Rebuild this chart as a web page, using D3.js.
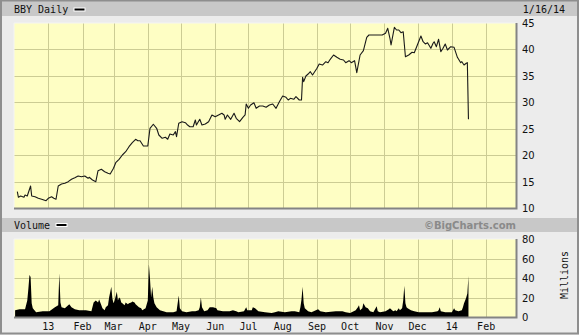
<!DOCTYPE html>
<html>
<head>
<meta charset="utf-8">
<script src="https://cdn.jsdelivr.net/npm/d3@7"></script>
<style>
  body { margin: 0; background: #fff; }
  svg { display: block; }
</style>
</head>
<body>
<div id="chart"></div>
<script>
// chart data
const priceDates = ["2012-12-04","2012-12-05","2012-12-07","2012-12-10","2012-12-11","2012-12-13","2012-12-16","2012-12-17","2012-12-20","2012-12-23","2012-12-26","2012-12-30",
  "2013-01-01","2013-01-04","2013-01-06","2013-01-08","2013-01-10","2013-01-13","2013-01-16","2013-01-19","2013-01-22","2013-01-25","2013-01-28","2013-01-31",
  "2013-02-03","2013-02-06","2013-02-07","2013-02-10","2013-02-13","2013-02-15","2013-02-18","2013-02-21","2013-02-24","2013-02-26",
  "2013-03-01","2013-03-03","2013-03-06","2013-03-09","2013-03-12","2013-03-15","2013-03-18","2013-03-21","2013-03-23","2013-03-25","2013-03-28",
  "2013-04-01","2013-04-03","2013-04-06","2013-04-09","2013-04-11","2013-04-14","2013-04-17","2013-04-19","2013-04-21","2013-04-24","2013-04-26","2013-04-27","2013-04-29",
  "2013-05-02","2013-05-05","2013-05-07","2013-05-09","2013-05-12","2013-05-14","2013-05-15","2013-05-18","2013-05-20","2013-05-23","2013-05-26","2013-05-29",
  "2013-06-01","2013-06-04","2013-06-07","2013-06-09","2013-06-10","2013-06-12","2013-06-15","2013-06-18","2013-06-20","2013-06-23","2013-06-26","2013-06-28","2013-06-29",
  "2013-07-01","2013-07-03","2013-07-06","2013-07-08","2013-07-11","2013-07-14","2013-07-17","2013-07-20","2013-07-23","2013-07-26","2013-07-29",
  "2013-08-01","2013-08-04","2013-08-06","2013-08-08","2013-08-11","2013-08-13","2013-08-16","2013-08-18","2013-08-19","2013-08-20","2013-08-22","2013-08-24","2013-08-26","2013-08-28",
  "2013-09-01","2013-09-03","2013-09-06","2013-09-09","2013-09-11","2013-09-13","2013-09-16","2013-09-19","2013-09-22","2013-09-25","2013-09-27","2013-09-30",
  "2013-10-02","2013-10-05","2013-10-07","2013-10-10","2013-10-13","2013-10-16","2013-10-18","2013-10-21","2013-10-25","2013-10-30",
  "2013-11-02","2013-11-04","2013-11-06","2013-11-07","2013-11-10","2013-11-12","2013-11-14","2013-11-16","2013-11-18","2013-11-20","2013-11-23","2013-11-26","2013-11-28","2013-11-30",
  "2013-12-04","2013-12-06","2013-12-08","2013-12-10","2013-12-13","2013-12-15","2013-12-16","2013-12-18","2013-12-20","2013-12-22","2013-12-24","2013-12-26","2013-12-28","2013-12-31",
  "2014-01-03","2014-01-06","2014-01-09","2014-01-10","2014-01-12","2014-01-14","2014-01-15","2014-01-16"];
const priceValues = [13.09,12.03,12.27,12.03,12.46,12.27,14.16,12.27,12.14,11.84,11.65,11.38,
  11.84,12.14,11.84,11.65,14.16,14.54,14.67,14.98,15.43,15.73,16.06,15.92,
  16.06,15.62,15.81,15.30,14.98,17.06,17.32,16.87,16.57,16.43,
  17.51,18.57,19.21,20.03,20.65,21.60,22.36,23.00,22.73,22.73,21.73,
  21.73,25.08,25.84,25.08,23.81,23.19,23.38,23.00,24.00,23.81,24.44,23.49,26.03,
  26.33,26.14,25.70,25.38,25.38,26.65,25.70,26.78,25.70,25.89,26.33,27.60,
  27.27,27.60,27.92,27.60,26.78,27.60,26.78,27.92,26.97,26.33,27.16,27.60,29.68,
  28.86,29.49,29.92,28.86,29.30,29.30,29.05,29.49,29.68,28.86,30.11,
  31.19,30.94,30.43,30.75,30.57,31.06,30.43,30.43,34.73,33.90,34.97,35.35,35.79,35.16,
  36.43,37.24,37.05,37.68,37.49,38.13,38.95,38.51,38.13,38.00,37.49,37.87,
  37.49,37.87,35.60,38.95,39.76,42.29,42.73,42.73,42.73,42.73,
  43.05,44.00,42.11,40.84,44.19,43.68,43.68,43.17,43.35,38.62,38.95,39.46,39.38,40.40,
  42.54,41.46,41.03,41.27,40.21,41.16,41.46,40.52,41.92,39.57,40.21,41.03,39.89,40.52,
  40.40,38.51,37.49,37.68,37.05,37.38,37.50,26.80];

const volumeDates = ["2012-12-02","2012-12-06","2012-12-11","2012-12-13","2012-12-14","2012-12-15","2012-12-16","2012-12-17","2012-12-18","2012-12-21","2012-12-27",
  "2013-01-02","2013-01-07","2013-01-10","2013-01-11","2013-01-12","2013-01-13","2013-01-16","2013-01-20","2013-01-22","2013-01-25","2013-01-29",
  "2013-02-04","2013-02-09","2013-02-11","2013-02-13","2013-02-15","2013-02-16","2013-02-18","2013-02-19","2013-02-21","2013-02-22","2013-02-24","2013-02-25","2013-02-27","2013-02-28",
  "2013-03-01","2013-03-02","2013-03-04","2013-03-05","2013-03-06","2013-03-07","2013-03-08","2013-03-09","2013-03-11","2013-03-12","2013-03-14","2013-03-15","2013-03-17","2013-03-18","2013-03-20","2013-03-21","2013-03-23","2013-03-24","2013-03-26","2013-03-27","2013-03-30",
  "2013-04-01","2013-04-02","2013-04-03","2013-04-04","2013-04-05","2013-04-06","2013-04-07","2013-04-09","2013-04-10","2013-04-12","2013-04-18","2013-04-24","2013-04-27","2013-04-29","2013-04-30",
  "2013-05-02","2013-05-06","2013-05-11","2013-05-14","2013-05-17","2013-05-18","2013-05-19","2013-05-20","2013-05-22","2013-05-25","2013-05-27","2013-05-30",
  "2013-06-02","2013-06-03","2013-06-08","2013-06-14","2013-06-17","2013-06-20","2013-06-22","2013-06-27","2013-06-29","2013-06-30",
  "2013-07-04","2013-07-05","2013-07-07","2013-07-10","2013-07-16","2013-07-22","2013-07-25","2013-07-28",
  "2013-08-03","2013-08-09","2013-08-12","2013-08-16","2013-08-17","2013-08-18","2013-08-19","2013-08-20","2013-08-21","2013-08-23","2013-08-24","2013-08-27","2013-08-31",
  "2013-09-02","2013-09-04","2013-09-09","2013-09-18","2013-09-24","2013-09-27",
  "2013-10-01","2013-10-06","2013-10-08","2013-10-09","2013-10-10","2013-10-12","2013-10-13","2013-10-14","2013-10-15","2013-10-17","2013-10-19","2013-10-22","2013-10-24","2013-10-25","2013-10-26","2013-10-28",
  "2013-11-02","2013-11-05","2013-11-06","2013-11-08","2013-11-09","2013-11-11","2013-11-12","2013-11-14","2013-11-15","2013-11-17","2013-11-18","2013-11-19","2013-11-20","2013-11-21","2013-11-22","2013-11-25","2013-11-28",
  "2013-12-02","2013-12-08","2013-12-14","2013-12-19","2013-12-20","2013-12-21","2013-12-22","2013-12-26",
  "2014-01-01","2014-01-03","2014-01-04","2014-01-07","2014-01-10","2014-01-11","2014-01-12","2014-01-13","2014-01-14","2014-01-15","2014-01-16"];
const volumeValues = [7,8,8,17,29,43,41,14,9,5,6,
  6,10,12,45,15,10,9,13,10,8,7,
  7,6,15,17,15,18,12,9,7,10,12,20,31,19,
  14,17,26,17,20,19,15,14,12,15,13,14,15,16,15,13,11,10,9,7,9,
  17,54,39,20,31,20,14,10,9,7,5,5,6,22,9,
  6,5,6,6,7,10,20,10,6,7,10,10,
  9,7,6,6,7,6,5,6,10,7,
  7,10,9,6,5,4,5,6,
  5,6,6,5,10,18,31,14,9,7,6,5,7,
  8,6,5,6,6,5,
  4,7,10,12,7,9,14,12,10,9,6,5,9,11,6,5,
  6,8,9,7,6,7,6,9,7,9,17,32,14,10,9,7,6,
  5,5,5,6,7,10,6,5,
  5,9,7,6,7,10,14,17,20,24,42];

const monthTicks = ["2013-01-01","2013-02-01","2013-03-01","2013-04-01","2013-05-01","2013-06-01","2013-07-01","2013-08-01","2013-09-01","2013-10-01","2013-11-01","2013-12-01","2014-01-01","2014-02-01"];
const monthLabels = ["13","Feb","Mar","Apr","May","Jun","Jul","Aug","Sep","Oct","Nov","Dec","14","Feb"];
const priceTicks = [10, 15, 20, 25, 30, 35, 40, 45];
const volumeTicks = [0, 20, 40, 60, 80];

const W = 579, H = 335;
const plotLeft = 14, plotRight = 516;
const priceTop = 23, priceBottom = 208;
const volTop = 239, volBottom = 317;

const parse = d3.timeParse("%Y-%m-%d");
const mono = "'DejaVu Sans Mono', monospace";
const sans = "'DejaVu Sans', Verdana, sans-serif";

const svg = d3.select("#chart")
    .append("svg")
    .attr("width", W)
    .attr("height", H);

// frame and header bars
svg.append("rect")
    .attr("x", 0).attr("y", 0)
    .attr("width", W).attr("height", H)
    .attr("fill", "#ececec");

svg.append("rect")
    .attr("x", 2).attr("y", 1)
    .attr("width", W - 4).attr("height", 15)
    .attr("fill", "#c8c8c8");

svg.append("rect")
    .attr("x", 2).attr("y", 218)
    .attr("width", W - 4).attr("height", 14)
    .attr("fill", "#c8c8c8");

svg.append("rect")
    .attr("x", 1).attr("y", 0.5)
    .attr("width", W - 2).attr("height", H - 2)
    .attr("fill", "none")
    .attr("stroke", "#8e8e8e")
    .attr("stroke-width", 2);

// scales
const x = d3.scaleTime()
    .domain([parse("2012-12-01"), parse("2014-02-28")])
    .range([plotLeft, plotRight]);

const yPrice = d3.scaleLinear()
    .domain([10, 45])
    .range([priceBottom, priceTop]);

const yVol = d3.scaleLinear()
    .domain([0, 80])
    .range([volBottom, volTop]);

const tickDates = monthTicks.map(parse);

function drawPanel(top, bottom, yScale, ticks) {
    svg.append("rect")
        .attr("x", plotLeft).attr("y", top)
        .attr("width", plotRight - plotLeft).attr("height", bottom - top)
        .attr("fill", "#fefec4");

    const grid = svg.append("g")
        .attr("stroke", "#cccc94")
        .attr("stroke-width", 1);

    grid.selectAll("line.v")
        .data(tickDates)
        .enter()
        .append("line")
        .attr("x1", d => Math.round(x(d)) + 0.5)
        .attr("x2", d => Math.round(x(d)) + 0.5)
        .attr("y1", top)
        .attr("y2", bottom);

    grid.selectAll("line.h")
        .data(ticks.slice(1, -1))
        .enter()
        .append("line")
        .attr("x1", plotLeft)
        .attr("x2", plotRight)
        .attr("y1", d => Math.round(yScale(d)) + 0.5)
        .attr("y2", d => Math.round(yScale(d)) + 0.5);

    // tick labels on the right
    svg.append("g")
        .selectAll("text")
        .data(ticks)
        .enter()
        .append("text")
        .attr("x", 522)
        .attr("y", d => yScale(d) + 4)
        .attr("font-family", sans)
        .attr("font-size", "10px")
        .attr("fill", "#111")
        .text(d => d);
}

drawPanel(priceTop, priceBottom, yPrice, priceTicks);
drawPanel(volTop, volBottom, yVol, volumeTicks);

// volume area
const volData = volumeDates.map((d, i) => ({ date: parse(d), value: volumeValues[i] }));

svg.append("path")
    .datum(volData)
    .attr("fill", "#000")
    .attr("d", d3.area()
        .x(d => x(d.date))
        .y0(volBottom)
        .y1(d => yVol(d.value)));

// price line
const priceData = priceDates.map((d, i) => ({ date: parse(d), value: priceValues[i] }));

svg.append("path")
    .datum(priceData)
    .attr("fill", "none")
    .attr("stroke", "#1a1a1a")
    .attr("stroke-width", 1.1)
    .attr("stroke-linejoin", "round")
    .attr("d", d3.line()
        .x(d => x(d.date))
        .y(d => yPrice(d.value)));

// bevelled plot borders
[[priceTop, priceBottom], [volTop, volBottom]].forEach(function (p) {
    svg.append("path")
        .attr("d", `M${plotLeft},${p[1]}V${p[0]}H${plotRight}`)
        .attr("fill", "none")
        .attr("stroke", "#f4f4f4")
        .attr("stroke-width", 1);
    svg.append("path")
        .attr("d", `M${plotLeft},${p[1] + 0.5}H${plotRight + 0.5}V${p[0]}`)
        .attr("fill", "none")
        .attr("stroke", "#848484")
        .attr("stroke-width", 2);
});

// month labels
svg.append("g")
    .selectAll("text")
    .data(tickDates)
    .enter()
    .append("text")
    .attr("x", d => x(d))
    .attr("y", 329.5)
    .attr("text-anchor", "middle")
    .attr("font-family", mono)
    .attr("font-size", "10px")
    .attr("fill", "#111")
    .text((d, i) => monthLabels[i]);

// header texts and swatches
svg.append("text")
    .attr("x", 14).attr("y", 12.5)
    .attr("font-family", mono)
    .attr("font-size", "10px")
    .attr("fill", "#111")
    .text("BBY Daily");

svg.append("rect")
    .attr("x", 74).attr("y", 8)
    .attr("width", 11).attr("height", 3)
    .attr("fill", "#000")
    .attr("stroke", "#fff")
    .attr("stroke-width", 1);

svg.append("text")
    .attr("x", 565).attr("y", 12.5)
    .attr("text-anchor", "end")
    .attr("font-family", mono)
    .attr("font-size", "10px")
    .attr("fill", "#111")
    .text("1/16/14");

svg.append("text")
    .attr("x", 14).attr("y", 229)
    .attr("font-family", mono)
    .attr("font-size", "10px")
    .attr("fill", "#111")
    .text("Volume");

svg.append("rect")
    .attr("x", 56).attr("y", 223.5)
    .attr("width", 11).attr("height", 3)
    .attr("fill", "#000")
    .attr("stroke", "#fff")
    .attr("stroke-width", 1);

svg.append("text")
    .attr("x", 516).attr("y", 229)
    .attr("text-anchor", "end")
    .attr("font-family", sans)
    .attr("font-weight", "bold")
    .attr("font-size", "10px")
    .attr("fill", "#8a8a8a")
    .text("©BigCharts.com");

svg.append("text")
    .attr("transform", "translate(568,275) rotate(-90)")
    .attr("text-anchor", "middle")
    .attr("font-family", mono)
    .attr("font-size", "10px")
    .attr("fill", "#111")
    .text("Millions");
</script>
</body>
</html>
